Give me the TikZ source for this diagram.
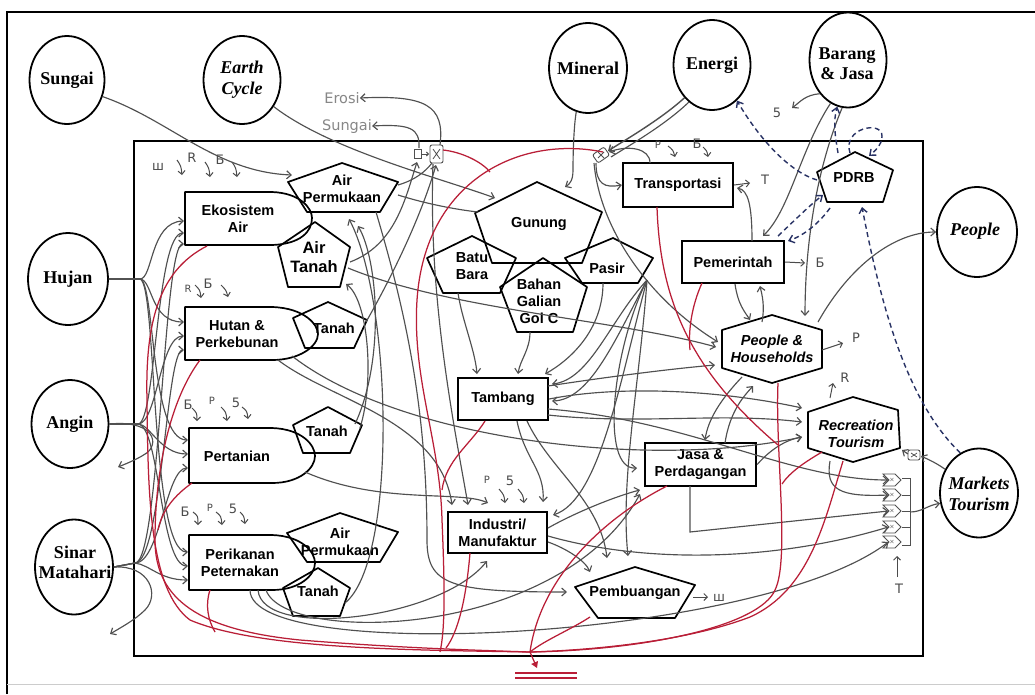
\documentclass[tikz,border=0pt]{standalone}
\usepackage{fontspec}
\setmainfont{Liberation Serif}
\setsansfont{Liberation Sans}
\newfontfamily\handf{DejaVu Sans}
\usetikzlibrary{shapes.geometric,shapes.symbols,arrows.meta}
\definecolor{gcol}{RGB}{80,80,80}
\definecolor{rcol}{RGB}{185,30,55}
\definecolor{bcol}{RGB}{40,50,100}
\definecolor{hcol}{RGB}{75,75,75}
\definecolor{ecol}{RGB}{135,135,135}
\begin{document}
\begin{tikzpicture}[x=1pt,y=-1pt,
  circ/.style={ellipse, draw, line width=1.8pt, inner sep=0pt},
  ctxt/.style={font=\bfseries\fontsize{18}{20}\selectfont, align=center, inner sep=0pt},
  lab/.style={font=\sffamily\bfseries\fontsize{14.5}{17}\selectfont, align=center, inner sep=0pt},
  bord/.style={draw, line width=1.7pt, line join=round},
  box/.style={rectangle, draw, line width=2.3pt, lab},
  con/.style={draw=gcol, line width=1.15pt},
  arr/.style={con, -{Straight Barb[length=4.5pt,width=8pt]}},
  rline/.style={draw=rcol, line width=1.25pt},
  dsh/.style={draw=bcol, line width=1.4pt, dash pattern=on 5pt off 3.5pt, -{Straight Barb[length=5pt,width=8pt]}},
  hand/.style={font=\handf\fontsize{13}{13}\selectfont, text=hcol, inner sep=0pt},
  handp/.style={font=\handf\fontsize{10}{10}\selectfont, text=hcol, inner sep=0pt},
  harr/.style={draw=hcol, line width=1pt, -{Straight Barb[length=3.5pt,width=7pt]}},
  tagshape/.style={signal, signal to=east, signal from=west, draw=gcol, line width=0.9pt, minimum width=18pt, minimum height=12pt, inner sep=0pt, font=\fontsize{6}{6}\selectfont}
]
\useasboundingbox (0,0) rectangle (1035,694);
\fill[white] (0,0) rectangle (1035,694);
% frames
\draw[line width=2pt] (7,694) -- (7,12) -- (1035,12);
\draw[black!20, line width=1pt] (7,684) -- (1035,684);
\draw[line width=2.4pt] (134,141) rectangle (923,656);

% outer circles
\node[circ, minimum width=75pt, minimum height=88pt] (sungai) at (67,80) {};
\node[ctxt] at (sungai) {Sungai};
\node[circ, minimum width=77pt, minimum height=88pt] (earth) at (242,80) {};
\node[ctxt, font=\bfseries\itshape\fontsize{18}{21}\selectfont] at (earth) {Earth\\Cycle};
\node[circ, minimum width=80pt, minimum height=92pt] (hujan) at (68,279) {};
\node[ctxt] at (hujan) {Hujan};
\node[circ, minimum width=77pt, minimum height=88pt] (angin) at (70,424) {};
\node[ctxt] at (angin) {Angin};
\node[circ, minimum width=78pt, minimum height=95pt] (sinar) at (74,567) {};
\node[ctxt] at (75,562) {Sinar\\Matahari};
\node[circ, minimum width=78pt, minimum height=90pt] (mineral) at (588,68) {};
\node[ctxt] at (mineral) {Mineral};
\node[circ, minimum width=77pt, minimum height=90pt] (energi) at (712,65) {};
\node[ctxt] at (energi) {Energi};
\node[circ, minimum width=77pt, minimum height=95pt] (barang) at (848,60) {};
\node[ctxt] at (847,64) {Barang\\\& Jasa};
\node[circ, minimum width=80pt, minimum height=90pt] (people) at (977,232) {};
\node[ctxt, font=\bfseries\itshape\fontsize{18}{20}\selectfont] at (975,231) {People};
\node[circ, minimum width=78pt, minimum height=89pt] (markets) at (979,493) {};
\node[ctxt, font=\bfseries\itshape\fontsize{18}{21}\selectfont] at (979,494) {Markets\\Tourism};

% left bulge boxes
\draw[bord] (185,192) -- (272,192) .. controls (300,193) and (312,208) .. (312,218) .. controls (312,232) and (300,244) .. (272,245) -- (185,245) -- cycle;
\node[lab] (ekos) at (238,219) {Ekosistem\\Air};
\draw[bord] (185,307) -- (272,307) .. controls (305,308) and (318,325) .. (318,334) .. controls (318,346) and (300,360) .. (272,360) -- (185,360) -- cycle;
\node[lab] (hutan) at (237,334) {Hutan \&\\Perkebunan};
\draw[bord] (189,428) -- (272,428) .. controls (302,429) and (315,445) .. (315,456) .. controls (315,468) and (300,483) .. (272,483) -- (189,483) -- cycle;
\node[lab] (pert) at (237,456) {Pertanian};
\draw[bord] (189,535) -- (272,535) .. controls (302,536) and (315,552) .. (315,563) .. controls (315,575) and (300,590) .. (272,590) -- (189,590) -- cycle;
\node[lab] (perik) at (240,563) {Perikanan\\Peternakan};

% pentagons (left)
\draw[bord] (342,163) -- (398,182) -- (380,212) -- (307,212) -- (288,182) -- cycle;
\node[lab] (airp) at (342,189) {Air\\Permukaan};
\draw[bord] (315,222) -- (350,247) -- (340,287) -- (288,287) -- (278,247) -- cycle;
\node[lab, font=\sffamily\bfseries\fontsize{16.5}{19}\selectfont] (airt) at (314,257) {Air\\Tanah};
\draw[bord] (328,302) -- (367,320) -- (354,348) -- (305,348) -- (293,318) -- cycle;
\node[lab] (tanah1) at (334,328) {Tanah};
\draw[bord] (328,407) -- (362,425) -- (350,453) -- (303,453) -- (293,425) -- cycle;
\node[lab] (tanah2) at (327,431) {Tanah};
\draw[bord] (340,513) -- (398,532) -- (380,562) -- (307,562) -- (287,533) -- cycle;
\node[lab] (airp2) at (340,542) {Air\\Permukaan};
\draw[bord] (318,568) -- (350,588) -- (340,616) -- (293,616) -- (283,588) -- cycle;
\node[lab] (tanah3) at (318,591) {Tanah};

% mineral cluster
\draw[bord] (537,182) -- (602,212) -- (582,263) -- (492,263) -- (475,213) -- cycle;
\node[lab] (gunung) at (539,224) {Gunung};
\draw[bord] (472,236) -- (516,258) -- (500,293) -- (443,293) -- (427,258) -- cycle;
\node[lab] (batu) at (472,266) {Batu\\Bara};
\draw[bord] (543,258) -- (587,287) -- (573,332) -- (517,332) -- (500,287) -- cycle;
\node[lab] (galian) at (539,301) {Bahan\\Galian\\Gol C};
\draw[bord] (613,238) -- (653,258) -- (638,283) -- (582,283) -- (565,258) -- cycle;
\node[lab] (pasir) at (607,268) {Pasir};

% right side shapes
\draw[bord] (855,152) -- (893,170) -- (883,202) -- (827,202) -- (817,172) -- cycle;
\node[lab] (pdrb) at (854,178) {PDRB};
\draw[bord] (635,567) -- (695,585) -- (675,618) -- (598,618) -- (575,587) -- cycle;
\node[lab] (pemb) at (635,593) {Pembuangan};
\draw[bord] (772,315) -- (822,330) -- (822,368) -- (772,383) -- (722,368) -- (722,330) -- cycle;
\node[lab, font=\sffamily\bfseries\itshape\fontsize{14.5}{17}\selectfont] (ph) at (772,349) {People \&\\Households};
\draw[bord] (853,397) -- (898,410) -- (900,448) -- (853,462) -- (808,448) -- (808,412) -- cycle;
\node[lab, font=\sffamily\bfseries\itshape\fontsize{14.5}{17}\selectfont] (rec) at (856,434) {Recreation\\Tourism};

\node[box, minimum width=110pt, minimum height=44pt] (trans) at (678,185) {Transportasi};
\node[box, minimum width=102pt, minimum height=42pt] (pem) at (733,262) {Pemerintah};
\node[box, minimum width=90pt, minimum height=42pt] (tamb) at (503,399) {Tambang};
\node[box, minimum width=99pt, minimum height=41pt] (ind) at (497.5,532.5) {Industri/\\Manufaktur};
\node[box, minimum width=111pt, minimum height=43pt] (jasa) at (700.5,464.5) {Jasa \&\\Perdagangan};

% tags
\foreach \i/\y in {1/480,2/495,3/511,4/527,5/542}{
  \node[tagshape] (tag\i) at (892,\y) {$\times$};
}
\draw[con, line width=0.9pt] (902,478) -- (910,478) -- (910,545) -- (902,545)
  (902,495) -- (910,495) (902,511) -- (910,511) (902,527) -- (910,527);

% symbols
\coordinate (xs) at (437,153);
\coordinate (es) at (600,155);
\draw[gcol, line width=0.9pt] (414,149) rectangle (421,158);
\draw[gcol, line width=0.9pt, -{Straight Barb[length=2pt,width=4pt]}] (422,154) -- (429,154);
\draw[gcol, line width=0.9pt, rounded corners=2pt] (430,145) rectangle (443,163);
\draw[gcol, line width=0.8pt] (433,149) -- (440,159) (440,149) -- (433,159);
\draw[gcol, line width=0.9pt, rounded corners=2pt, rotate around={35:(601,155)}] (594,150) rectangle (608,160);
\draw[gcol, line width=0.8pt] (598,152) -- (604,158) (604,152) -- (598,158);
\draw[gcol, line width=0.9pt, rounded corners=2pt] (908,450) rectangle (920,460);
\draw[gcol, line width=0.7pt] (911,453) -- (917,457) (917,453) -- (911,457);

% hand-written labels
\node[hand, text=ecol, font=\handf\fontsize{14.5}{15}\selectfont] (erosi) at (342,98) {Erosi};
\node[hand, text=ecol, font=\handf\fontsize{14.5}{15}\selectfont] (sungaih) at (347,126) {Sungai};
\node[hand] at (158,167) {ш};
\node[hand] at (192,158) {R};
\node[hand] at (220,160) {Б};
\draw[harr] (177,160) .. controls (181,166) .. (182,175);
\draw[harr] (205,162) .. controls (209,168) .. (210,177);
\draw[harr] (232,162) .. controls (236,168) .. (237,177);
\node[handp] at (188,289) {R};
\node[hand] at (208,284) {Б};
\draw[harr] (195,285) .. controls (200,290) .. (201,298);
\draw[harr] (221,285) .. controls (226,290) .. (228,297);
\node[hand] at (188,405) {Б};
\node[handp] at (212,401) {P};
\node[hand] at (236,403) {5};
\draw[harr] (192,408) .. controls (197,413) .. (197,421);
\draw[harr] (221,407) .. controls (226,412) .. (227,421);
\draw[harr] (242,407) .. controls (247,411) .. (248,419);
\node[hand] at (185,512) {Б};
\node[handp] at (210,508) {P};
\node[hand] at (233,509) {5};
\draw[harr] (193,512) .. controls (198,516) .. (198,525);
\draw[harr] (216,512) .. controls (221,516) .. (222,525);
\draw[harr] (240,512) .. controls (244,516) .. (245,524);
\node[handp] at (658,145) {P};
\node[hand] at (697,144) {Б};
\draw[harr] (668,146) .. controls (673,150) .. (675,157);
\draw[harr] (703,147) .. controls (707,151) .. (708,157);
\node[handp] at (487,480) {P};
\node[hand] at (510,481) {5};
\draw[harr] (499,489) .. controls (504,495) .. (505,503);
\draw[harr] (518,489) .. controls (523,495) .. (524,503);
\node[hand] at (765,180) {T};
\draw[harr] (trans.east) -- (750,183);
\node[hand] at (820,263) {Б};
\draw[harr] (pem.east) -- (805,263);
\node[hand] at (856,338) {P};
\draw[harr] (822,350) -- (843,343);
\node[hand] at (845,378) {R};
\draw[harr] (830,398) -- (833,383);
\node[hand] at (719,598) {ш};
\draw[harr] (693,597) -- (708,597);
\node[hand] at (899,589) {T};
\draw[harr] (897,577) -- (897,556);
\node[hand] at (777,113) {5};

% Sungai, Earth Cycle
\draw[arr] (sungai.-25) .. controls (170,120) and (215,172) .. (292,175);
\draw[arr] (earth.-40) .. controls (330,150) and (440,178) .. (495,198);
\draw[con] (398,195) .. controls (430,205) and (460,210) .. (478,212);
% Hujan bundle
\draw[arr] (hujan.east) -- (140,279) .. controls (153,279) and (150,222) .. (184,221);
\draw[arr] (hujan.east) -- (140,279) .. controls (153,280) and (150,322) .. (184,322);
\draw[arr] (hujan.east) -- (140,279) .. controls (155,281) and (150,440) .. (188,440);
\draw[arr] (hujan.east) -- (140,279) .. controls (157,282) and (150,552) .. (188,552);
% Angin bundle
\draw[arr] (angin.east) -- (138,424) .. controls (156,424) and (156,233) .. (184,233);
\draw[arr] (angin.east) -- (138,424) .. controls (157,424) and (160,336) .. (184,336);
\draw[arr] (angin.east) -- (138,424) .. controls (150,424) and (160,454) .. (188,454);
\draw[arr] (angin.east) -- (138,424) .. controls (160,426) and (160,566) .. (188,566);
\draw[arr] (angin.east) .. controls (150,420) and (160,440) .. (148,452) .. controls (140,458) and (128,463) .. (118,467);
% Sinar bundle
\draw[arr] (sinar.east) -- (135,563) .. controls (160,563) and (163,244) .. (184,244);
\draw[arr] (sinar.east) -- (135,563) .. controls (162,562) and (166,350) .. (184,350);
\draw[arr] (sinar.east) -- (135,563) .. controls (160,563) and (166,468) .. (188,468);
\draw[arr] (sinar.east) -- (135,563) .. controls (150,565) and (160,580) .. (188,580);
\draw[arr] (sinar.east) .. controls (150,565) and (160,595) .. (145,610) .. controls (135,620) and (120,628) .. (110,634);

% Mineral, Energi
\draw[arr] (mineral.-105) .. controls (574,125) and (573,150) .. (573,170) .. controls (573,180) and (570,184) .. (565,187);
\draw[arr, line width=1.4pt] (energi.-130) .. controls (660,120) and (625,140) .. (608,151);
\draw[con] (energi.-122) .. controls (665,125) and (630,145) .. (611,157);
\draw[arr] (596,163) .. controls (596,185) and (605,188) .. (trans.west);
\draw[arr] (650,163) .. controls (650,148) and (628,145) .. (609,152);
\draw[arr] (594,163) .. controls (600,230) and (650,300) .. (718,342);
\coordinate (fan) at (647,280);
\draw[arr] (fan) .. controls (610,320) and (590,380) .. (552,384);
\draw[arr] (fan) .. controls (615,340) and (590,400) .. (552,401);
\draw[arr] (fan) .. controls (620,380) and (600,500) .. (553,515);
\draw[arr] (fan) .. controls (612,350) and (600,470) .. (637,468);
\draw[arr] (fan) .. controls (640,380) and (620,480) .. (628,556);

% Erosi / Sungai / xs
\draw[arr] (440,145) .. controls (445,105) and (425,95) .. (erosi.east);
\draw[arr] (419,148) .. controls (420,128) and (410,124) .. (sungaih.east);
\draw[arr] (350,262) .. controls (395,245) and (405,200) .. (417,162);
\draw[con] (398,185) .. controls (415,180) and (425,172) .. (432,163);
\draw[arr] (366,322) .. controls (390,280) and (420,220) .. (436,165);
\draw[arr] (355,424) .. controls (385,360) and (378,260) .. (358,226);
\draw[arr] (345,603) .. controls (398,560) and (392,300) .. (349,219);
\draw[arr] (360,428) .. controls (375,380) and (368,300) .. (346,284);
\draw[arr] (433,164) .. controls (428,300) and (455,430) .. (468,505);
\draw[arr] (376,212) .. controls (402,300) and (427,400) .. (427,540) .. controls (427,585) and (450,592) .. (567,592);

% mineral cluster to Tambang
\draw[arr] (458,293) .. controls (462,320) and (475,350) .. (477,374);
\draw[arr] (530,332) .. controls (530,350) and (520,360) .. (518,374);
\draw[arr] (603,283) .. controls (603,330) and (570,360) .. (545,374);
% Tambang out
\draw[arr] (517,421) .. controls (525,460) and (545,470) .. (543,502);
\draw[arr] (527,421) .. controls (550,470) and (600,500) .. (607,558);
\draw[arr] (tamb.east) .. controls (620,385) and (720,390) .. (802,408);
\draw[arr] (548,415) .. controls (640,425) and (720,412) .. (802,422);
\draw[arr] (548,409) .. controls (690,420) and (790,480) .. (tag1.west);
\draw[arr] (548,386) .. controls (620,375) and (680,368) .. (715,365);
% Jasa
\draw[arr] (jasa.east) .. controls (770,450) and (785,440) .. (802,437);
\draw[arr] (690,486) -- (690,532) -- (tag3.west);
\draw[arr] (742,377) .. controls (720,400) and (708,420) .. (705,440);
\draw[arr] (725,443) .. controls (730,410) and (745,395) .. (753,386);
% Industri
\draw[arr] (548,528) .. controls (580,510) and (620,495) .. (640,490);
\draw[arr] (548,536) .. controls (650,565) and (780,560) .. (tag4.west);
\draw[arr] (548,542) .. controls (565,548) and (585,560) .. (590,572);
% Recreation, Perikanan, Pertanian, Hutan, Air Tanah
\draw[arr] (830,461) .. controls (825,490) and (840,497) .. (tag2.west);
\draw[arr] (250,590) .. controls (250,665) and (760,640) .. (tag5.west);
\draw[arr] (258,590) .. controls (262,640) and (440,620) .. (487,561);
\draw[arr] (266,590) .. controls (285,645) and (560,640) .. (640,494);
\draw[arr] (305,472) .. controls (380,505) and (460,490) .. (488,503);
\draw[arr] (278,360) .. controls (330,400) and (440,420) .. (452,505);
\draw[arr] (292,356) .. controls (400,440) and (650,470) .. (802,437);
\draw[arr] (348,268) .. controls (450,310) and (620,320) .. (716,347);
% right side
\draw[arr] (818,322) .. controls (850,265) and (895,232) .. (people.west);
\draw[arr] (barang.-130) .. controls (805,95) and (800,102) .. (792,108);
\draw[arr] (barang.-112) .. controls (800,150) and (790,210) .. (763,236);
\draw[arr] (barang.-97) .. controls (812,180) and (805,260) .. (805,316);
\draw[arr] (752,241) .. controls (752,205) and (748,190) .. (737,188);
\draw[arr] (735,284) .. controls (738,305) and (745,312) .. (750,320);
\draw[arr] (762,322) .. controls (765,305) and (762,295) .. (760,286);
\draw[arr] (markets.145) .. controls (935,462) and (925,458) .. (921,456);
\draw[arr] (908,454) -- (902,450);
\draw[arr] (910,512) .. controls (922,512) and (928,505) .. (markets.195);

% dashed PDRB
\draw[dsh] (817,180) .. controls (790,172) and (760,140) .. (energi.-55);
\draw[dsh] (838,153) .. controls (835,135) and (833,122) .. (barang.-103);
\draw[dsh] (850,153) .. controls (842,128) and (882,120) .. (882,136) .. controls (882,145) and (876,150) .. (869,156);
\draw[dsh] (778,236) .. controls (795,220) and (810,205) .. (823,195);
\draw[dsh] (830,208) .. controls (820,222) and (805,235) .. (788,241);
\draw[dsh] (markets.115) .. controls (905,400) and (880,300) .. (862,207);

% red lines
\coordinate (J) at (530,652);
\draw[rline] (443,150) .. controls (462,152) and (482,162) .. (490,172);
\draw[rline] (603,152) .. controls (520,135) and (425,180) .. (417,300) .. controls (412,380) and (440,440) .. (442,520) .. controls (445,590) and (445,630) .. (440,652);
\draw[rline] (485,421) .. controls (470,445) and (446,460) .. (442,490);
\draw[rline] (470,553) .. controls (466,600) and (458,632) .. (446,648);
\draw[rline] (667,486) .. controls (600,520) and (540,580) .. (J);
\draw[rline] (590,617) .. controls (570,630) and (545,640) .. (J);
\draw[rline] (657,207) .. controls (660,300) and (690,370) .. (778,445);
\draw[rline] (702,283) .. controls (692,305) and (688,330) .. (690,350);
\draw[rline] (778,383) .. controls (775,450) and (790,560) .. (775,590) .. controls (760,625) and (650,650) .. (J);
\draw[rline] (822,452) .. controls (805,462) and (790,472) .. (782,484);
\draw[rline] (843,461) .. controls (825,520) and (810,590) .. (750,617) .. controls (690,640) and (600,650) .. (J);
\draw[rline] (207,246) .. controls (160,270) and (145,320) .. (147,400) .. controls (148,500) and (150,590) .. (190,620) .. controls (260,650) and (420,650) .. (J);
\draw[rline] (200,360) .. controls (170,400) and (155,470) .. (155,540) .. controls (155,600) and (200,630) .. (300,640) .. controls (400,648) and (470,650) .. (J);
\draw[rline] (192,483) .. controls (175,495) and (162,510) .. (158,530);
\draw[rline] (210,590) .. controls (205,605) and (208,620) .. (215,632);
\draw[rline, -{Triangle[length=6pt,width=7pt]}] (J) -- (537,668);
\draw[rline] (515,673) -- (577,673) (515,678) -- (577,678);
\end{tikzpicture}
\end{document}
